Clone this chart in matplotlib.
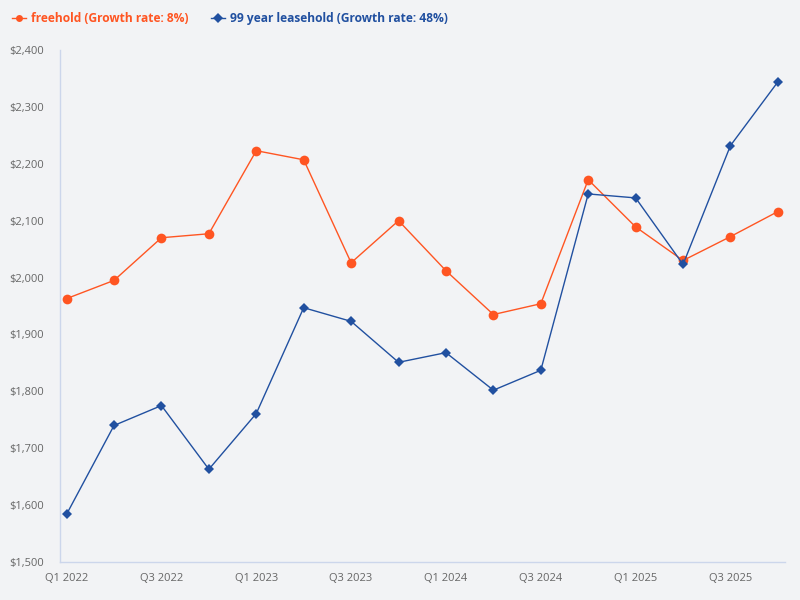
import matplotlib
matplotlib.use("Agg")
import matplotlib.pyplot as plt
from matplotlib.ticker import FuncFormatter

quarters = ["Q1 2022", "Q2 2022", "Q3 2022", "Q4 2022",
            "Q1 2023", "Q2 2023", "Q3 2023", "Q4 2023",
            "Q1 2024", "Q2 2024", "Q3 2024", "Q4 2024",
            "Q1 2025", "Q2 2025", "Q3 2025", "Q4 2025"]
freehold = [1963, 1995, 2070, 2077, 2223, 2207, 2026, 2100,
            2012, 1935, 1954, 2172, 2089, 2030, 2072, 2116]
leasehold = [1584, 1740, 1775, 1663, 1761, 1947, 1923, 1851,
             1868, 1802, 1837, 2147, 2140, 2023, 2232, 2344]
freehold_label = "freehold (Growth rate: 8%)"
leasehold_label = "99 year leasehold (Growth rate: 48%)"
y_ticks = [1500, 1600, 1700, 1800, 1900, 2000, 2100, 2200, 2300, 2400]

bg = "#F2F3F5"
orange = "#FF5522"
blue = "#2150A0"
axis_col = "#CCD6EB"
tick_col = "#666666"

plt.rcParams['font.family'] = ['Open Sans', 'DejaVu Sans']

fig = plt.figure(figsize=(8, 6), dpi=100, facecolor=bg)
ax = fig.add_axes([59.5/800, (600-562)/600, (785-59.5)/800, (562-50)/600])
ax.set_facecolor(bg)

x = list(range(len(quarters)))
l1, = ax.plot(x, freehold, color=orange, lw=1, marker='o', ms=7,
              markeredgewidth=0, label=freehold_label, zorder=3)
l2, = ax.plot(x, leasehold, color=blue, lw=1, marker='D', ms=5,
              markeredgewidth=0, label=leasehold_label, zorder=3)

ax.set_xlim(-0.15, 15.15)
ax.set_ylim(1500, 2400)
ax.set_yticks(y_ticks)
ax.yaxis.set_major_formatter(FuncFormatter(lambda v, p: f"${int(v):,}"))
ax.set_xticks(x[::2])
ax.set_xticklabels(quarters[::2])

for s in ["top", "right"]:
    ax.spines[s].set_visible(False)
for s in ["left", "bottom"]:
    ax.spines[s].set_color(axis_col)
    ax.spines[s].set_linewidth(1)
ax.tick_params(axis='both', length=0, colors=tick_col, labelsize=8)
ax.tick_params(axis='x', pad=8)
ax.tick_params(axis='y', pad=11)

leg = fig.legend(handles=[l1, l2], loc='upper left', bbox_to_anchor=(0.0, 1.0),
                 ncol=2, frameon=False, handlelength=1.2, handletextpad=0.4,
                 columnspacing=1.85, borderaxespad=0.6,
                 prop={'weight': 'bold', 'size': 8.65})
for t, c in zip(leg.get_texts(), [orange, blue]):
    t.set_color(c)
for h in leg.legend_handles:
    h.set_markersize(5)

fig.savefig("out.png", dpi=100, facecolor=bg)
